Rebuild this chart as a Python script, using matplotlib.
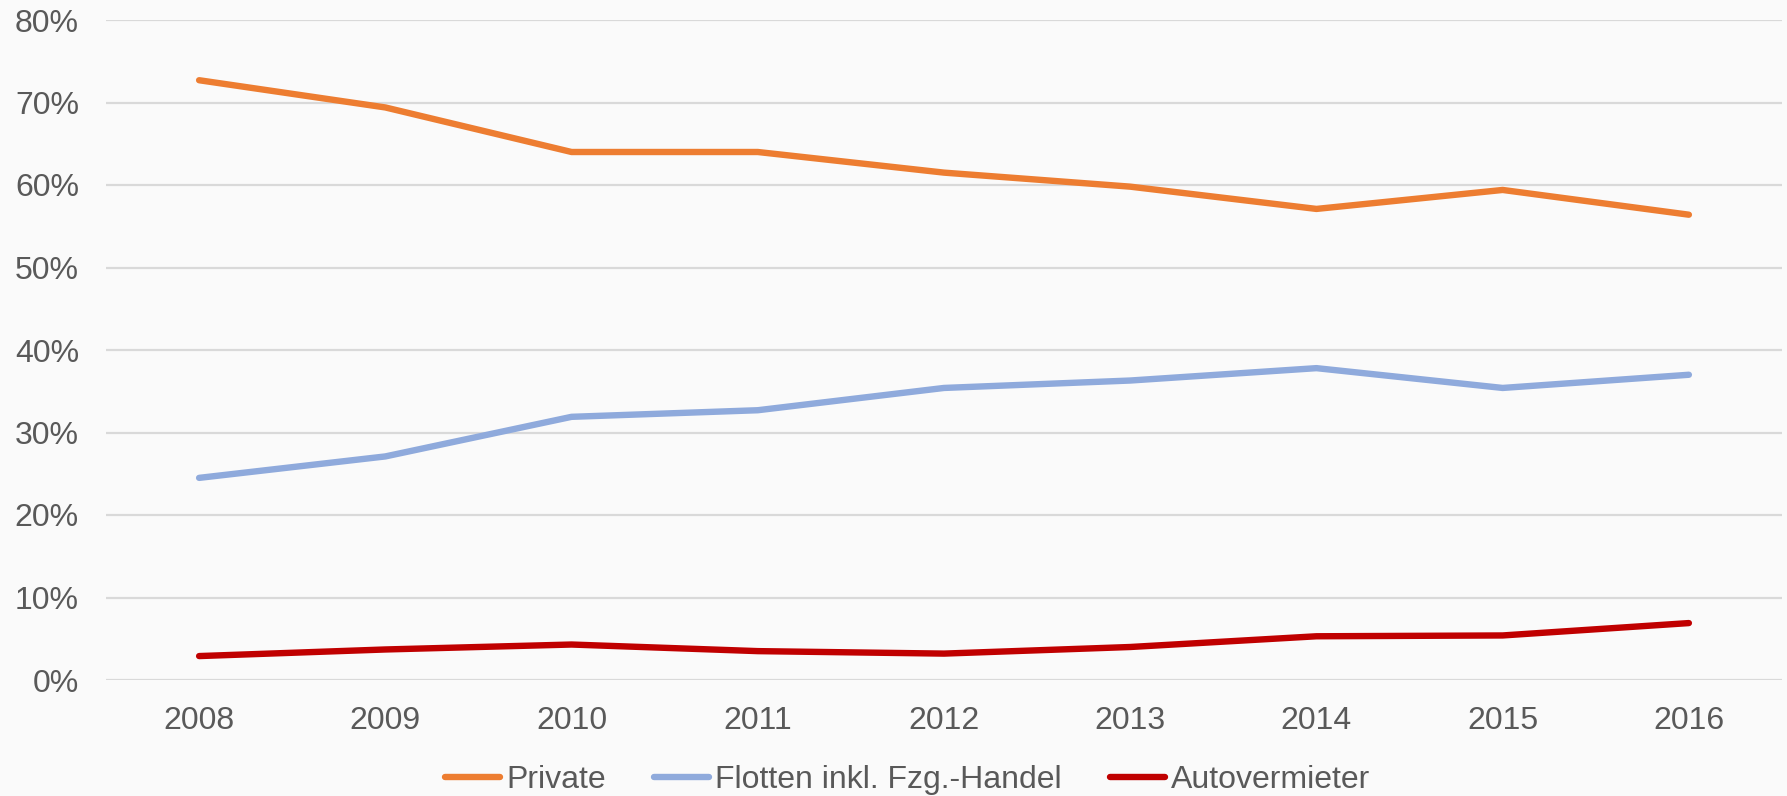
import numpy as np
import matplotlib.pyplot as plt
from matplotlib.ticker import PercentFormatter

years = ['2008', '2009', '2010', '2011', '2012', '2013', '2014', '2015', '2016']
private = [72.7, 69.4, 64.0, 64.0, 61.5, 59.8, 57.1, 59.4, 56.4]
flotten = [24.5, 27.1, 31.9, 32.7, 35.4, 36.3, 37.8, 35.4, 37.0]
autovermieter = [2.9, 3.7, 4.3, 3.5, 3.2, 4.0, 5.3, 5.4, 6.9]

series_names = ['Private', 'Flotten inkl. Fzg.-Handel', 'Autovermieter']
colors = ['#ED7D31', '#8FAADC', '#C00000']

plt.rcParams['font.family'] = ['Liberation Sans', 'DejaVu Sans']
text_color = '#595959'
bg = '#FAFAFA'

fig = plt.figure(figsize=(17.87, 7.96), dpi=100, facecolor=bg)
ax = fig.add_axes([106 / 1787, 1 - 680 / 796, (1782 - 106) / 1787, 660 / 796])
ax.set_facecolor(bg)

x = np.arange(len(years))
for vals, name, c in zip([private, flotten, autovermieter], series_names, colors):
    ax.plot(x, vals, color=c, lw=4.6, solid_capstyle='round',
            solid_joinstyle='round', label=name, zorder=3)

ax.set_xlim(-0.5, len(years) - 0.5)
ax.set_ylim(0, 80)
ax.set_yticks(np.arange(0, 81, 10))
ax.yaxis.set_major_formatter(PercentFormatter(decimals=0))
ax.set_xticks(x)
ax.set_xticklabels(years)
ax.grid(axis='y', color='#D9D9D9', lw=1.6, zorder=0)
ax.tick_params(length=0, labelsize=23, labelcolor=text_color)
ax.tick_params(axis='x', pad=19)
ax.tick_params(axis='y', pad=19.5)
for s in ax.spines.values():
    s.set_visible(False)

leg = fig.legend(loc='center', bbox_to_anchor=(0.508, 1 - 780 / 796), ncol=3,
                 frameon=False, fontsize=23, handlelength=1.72,
                 handletextpad=0.2, columnspacing=1.5, labelcolor=text_color)

fig.savefig('out.png', dpi=100, facecolor=bg)
